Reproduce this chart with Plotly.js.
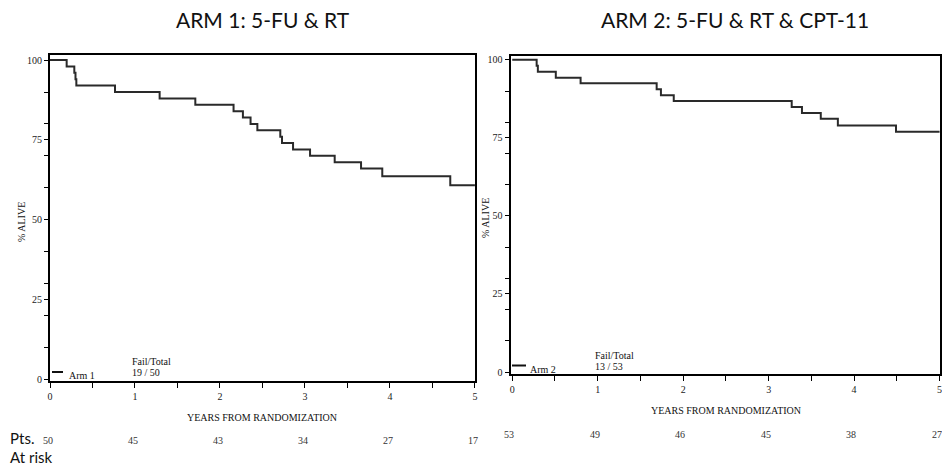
<!DOCTYPE html>
<html>
<head>
<meta charset="utf-8">
<script src="https://cdn.plot.ly/plotly-3.0.1.min.js"></script>
<style>html,body{margin:0;padding:0;background:#fff;}#chart{width:942px;height:470px;}</style>
</head>
<body>
<div id="chart"></div>
<script>
// ---- data ----
const arm1Title = "ARM 1: 5-FU & RT";
const arm2Title = "ARM 2: 5-FU & RT & CPT-11";
const arm1Times = [0, 0.196, 0.286, 0.30, 0.31, 0.765, 1.29, 1.71, 2.16, 2.27, 2.36, 2.44, 2.71, 2.73, 2.86, 3.06, 3.35, 3.66, 3.91, 4.71, 5.0];
const arm1Surv  = [100, 98, 96, 94, 92, 90, 88, 86, 84, 82, 80, 78, 76, 74, 72, 70, 68, 66, 63.6, 60.8, 60.8];
const arm2Times = [0, 0.286, 0.30, 0.51, 0.80, 1.69, 1.74, 1.89, 3.27, 3.39, 3.61, 3.81, 4.49, 5.0];
const arm2Surv  = [100, 98.1, 96.2, 94.3, 92.5, 90.6, 88.7, 86.8, 84.9, 83.0, 81.1, 79.0, 77.0, 77.0];
const riskTimes = [0, 1, 2, 3, 4, 5];
const arm1AtRisk = [50, 45, 43, 34, 27, 17];
const arm2AtRisk = [53, 49, 46, 45, 38, 27];
const arm1Legend = "Arm 1", arm2Legend = "Arm 2";
const arm1FailTotal = "19 / 50", arm2FailTotal = "13 / 53";
const xTitle = "YEARS FROM RANDOMIZATION";
const yTitle = "% ALIVE";

// ---- layout helpers (pixel -> paper) ----
const W = 942, H = 470;
const px = x => x / W;
const py = y => 1 - y / H;
const serif = "Liberation Serif";
const sans = "Lato";

const lineStyle = {color: '#2a2a2a', width: 2, shape: 'hv'};
const traces = [
  {x: arm1Times, y: arm1Surv, type: 'scatter', mode: 'lines', line: lineStyle, xaxis: 'x', yaxis: 'y', hoverinfo: 'skip'},
  {x: arm2Times, y: arm2Surv, type: 'scatter', mode: 'lines', line: lineStyle, xaxis: 'x2', yaxis: 'y2', hoverinfo: 'skip'}
];

function xAx(domain, range, anchor) {
  return {domain: domain, range: range, anchor: anchor, showgrid: false, zeroline: false,
    showline: true, linecolor: '#000', linewidth: 2, mirror: true,
    tickmode: 'array', tickvals: riskTimes, ticktext: riskTimes.map(String),
    ticks: 'outside', ticklen: 5, tickwidth: 1, tickcolor: '#000',
    minor: {dtick: 0.5, tick0: 0, ticks: 'outside', ticklen: 5, tickwidth: 1, tickcolor: '#000'},
    tickfont: {family: serif, size: 10, color: '#222'}, ticklabelstandoff: 0, ticklabeloverflow: 'allow', fixedrange: true};
}
function yAx(domain, range, anchor) {
  return {domain: domain, range: range, anchor: anchor, showgrid: false, zeroline: false,
    showline: true, linecolor: '#000', linewidth: 2, mirror: true,
    tickmode: 'linear', tick0: 0, dtick: 25, ticks: 'outside', ticklen: 4, tickwidth: 1, tickcolor: '#000',
    minor: {dtick: 10, tick0: 0, ticks: 'outside', ticklen: 4, tickwidth: 1, tickcolor: '#000'},
    tickfont: {family: serif, size: 10, color: '#222'}, fixedrange: true};
}

const ann = [];
function txt(text, x, y, size, family, extra) {
  ann.push(Object.assign({text: text, x: px(x), y: py(y), xref: 'paper', yref: 'paper', showarrow: false,
    xanchor: 'center', yanchor: 'middle', font: {family: family, size: size, color: '#111'}}, extra || {}));
}
// titles
txt(arm1Title, 263, 19, 21, sans);
txt(arm2Title, 735, 19, 21, sans);
// axis titles
txt(xTitle, 262, 417, 10, serif);
txt(xTitle, 726, 410, 10, serif);
txt(yTitle, 21, 222, 10, serif, {textangle: -90});
txt(yTitle, 485, 218, 10, serif, {textangle: -90});
// legend / fail-total texts
txt(arm1Legend, 67, 375, 10, serif, {xanchor: 'left'});
txt("Fail/Total", 130, 361, 10, serif, {xanchor: 'left'});
txt(arm1FailTotal, 130, 372, 10, serif, {xanchor: 'left'});
txt(arm2Legend, 528, 369, 10, serif, {xanchor: 'left'});
txt("Fail/Total", 593, 355, 10, serif, {xanchor: 'left'});
txt(arm2FailTotal, 593, 366, 10, serif, {xanchor: 'left'});
// Pts. / At risk
txt("Pts.", 8, 438, 15, sans, {xanchor: 'left'});
txt("At risk", 8, 457, 15, sans, {xanchor: 'left'});
// at-risk numbers at the time ticks
riskTimes.forEach((t, i) => {
  ann.push({text: String(arm1AtRisk[i]), x: t, xref: 'x', y: py(440), yref: 'paper', xshift: -2, showarrow: false,
    xanchor: 'center', yanchor: 'middle', font: {family: serif, size: 10, color: '#333'}});
  ann.push({text: String(arm2AtRisk[i]), x: t, xref: 'x2', y: py(434), yref: 'paper', xshift: -3, showarrow: false,
    xanchor: 'center', yanchor: 'middle', font: {family: serif, size: 10, color: '#333'}});
});

const shapes = [
  {type: 'line', xref: 'paper', yref: 'paper', x0: px(52), x1: px(63), y0: py(372), y1: py(372), line: {color: '#111', width: 2}},
  {type: 'line', xref: 'paper', yref: 'paper', x0: px(512), x1: px(526), y0: py(365.5), y1: py(365.5), line: {color: '#111', width: 2}}
];

const layout = {
  width: W, height: H, margin: {l: 0, r: 0, t: 0, b: 0},
  paper_bgcolor: '#fff', plot_bgcolor: '#fff', showlegend: false,
  xaxis: xAx([px(50), px(475)], [0, 5.001], 'y'),
  yaxis: yAx([py(381), py(55)], [-0.6, 101.6], 'x'),
  xaxis2: xAx([px(510.5), px(940)], [-0.02, 5.005], 'y2'),
  yaxis2: yAx([py(374), py(55.5)], [-0.64, 101.4], 'x2'),
  annotations: ann, shapes: shapes
};
Plotly.newPlot('chart', traces, layout, {staticPlot: true, displayModeBar: false});
</script>
</body>
</html>
